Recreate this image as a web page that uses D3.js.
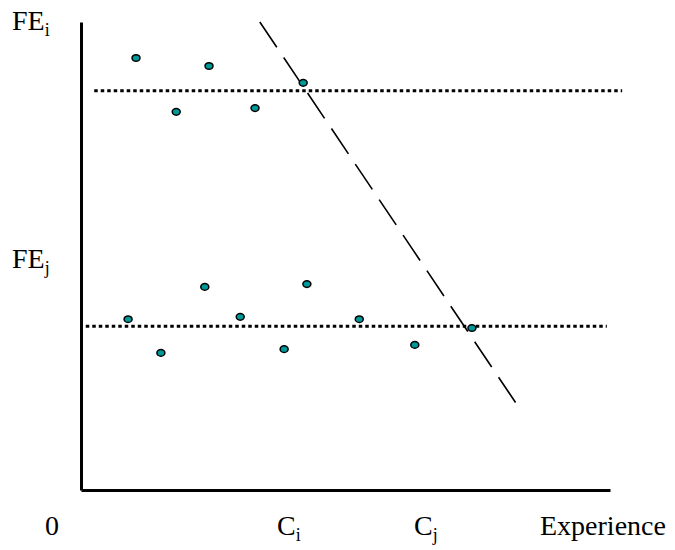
<!DOCTYPE html>
<html lang="en">
<head>
  <meta charset="UTF-8">
  <title>FE vs Experience</title>
  <script src="https://cdn.jsdelivr.net/npm/d3@7"></script>
  <style>
    body { margin: 0; background: #fff; }
    .etiqueta { font-family: 'Liberation Serif', 'Times New Roman', serif; }
  </style>
</head>
<body>
<div id="grafica"></div>
<script>
// dots, upper cluster (firm i) and lower cluster (firm j)
const puntosI = [
  { x: 10.4, y: 92.3 }, { x: 24.2, y: 90.6 }, { x: 18.0, y: 80.8 },
  { x: 32.9, y: 81.6 }, { x: 42.0, y: 87.0 }
]
const puntosJ = [
  { x: 8.9, y: 36.5 }, { x: 15.1, y: 29.3 }, { x: 23.4, y: 43.4 },
  { x: 30.1, y: 37.0 }, { x: 38.4, y: 30.1 }, { x: 42.7, y: 44.0 },
  { x: 52.6, y: 36.5 }, { x: 63.1, y: 31.0 }, { x: 73.9, y: 34.6 }
]
// dotted mean lines
const mediaI = { y: 85.3, x0: 2.5, x1: 102.3 }
const mediaJ = { y: 35.0, x0: 0.9, x1: 99.4 }
// dashed cutoff line
const corte = [{ x: 33.8, y: 100 }, { x: 82.2, y: 18.6 }]

const etiquetasY = [['FE', 'i'], ['FE', 'j']]
const etiquetasX = [['0', ''], ['C', 'i'], ['C', 'j'], ['Experience', '']]

const ancho_total = 675
const alto_total = 550
const margin = { left: 81, right: 65, top: 22, bottom: 60 }
const ancho = ancho_total - margin.left - margin.right
const alto = alto_total - margin.top - margin.bottom

const svg = d3.select('#grafica')
  .append('svg')
  .attr('width', ancho_total)
  .attr('height', alto_total)

const g = svg.append('g')
  .attr('transform', `translate(${margin.left},${margin.top})`)

const x = d3.scaleLinear().domain([0, 100]).range([0, ancho])
const y = d3.scaleLinear().domain([0, 100]).range([alto, 0])

// axes without ticks, just the lines
g.append('g')
  .attr('transform', `translate(0,${alto})`)
  .call(d3.axisBottom(x).tickValues([]).tickSizeOuter(0))
g.append('g')
  .call(d3.axisLeft(y).tickValues([]).tickSizeOuter(0))
g.selectAll('.domain')
  .attr('stroke', '#000')
  .attr('stroke-width', 3)

// dotted horizontal lines
const linea = d3.line().x(d => x(d.x)).y(d => y(d.y))
;[mediaI, mediaJ].forEach(m => {
  g.append('path')
    .attr('d', linea([{ x: m.x0, y: m.y }, { x: m.x1, y: m.y }]))
    .attr('fill', 'none')
    .attr('stroke', '#000')
    .attr('stroke-width', 3)
    .attr('stroke-dasharray', '3.5,3')
})

// dashed diagonal
g.append('path')
  .attr('d', linea(corte))
  .attr('fill', 'none')
  .attr('stroke', '#000')
  .attr('stroke-width', 1.6)
  .attr('stroke-dasharray', '30.5,12.3')

// dots
g.selectAll('ellipse.punto')
  .data(puntosI.concat(puntosJ))
  .enter()
  .append('ellipse')
  .attr('class', 'punto')
  .attr('cx', d => x(d.x))
  .attr('cy', d => y(d.y))
  .attr('rx', 4)
  .attr('ry', 3.3)
  .attr('fill', '#009999')
  .attr('stroke', '#000')
  .attr('stroke-width', 1.5)

// labels
function etiqueta(par, px, py) {
  const t = svg.append('text')
    .attr('class', 'etiqueta')
    .attr('x', px)
    .attr('y', py)
    .attr('font-size', 28)
    .attr('fill', '#000')
  t.append('tspan').text(par[0])
  if (par[1]) {
    t.append('tspan')
      .attr('font-size', 18)
      .attr('dy', 6)
      .text(par[1])
  }
}

const posY = [[12, 30], [12, 268]]
etiquetasY.forEach((e, i) => etiqueta(e, posY[i][0], posY[i][1]))

const posX = [45, 277, 414, 540]
etiquetasX.forEach((e, i) => etiqueta(e, posX[i], 535))
</script>
</body>
</html>
